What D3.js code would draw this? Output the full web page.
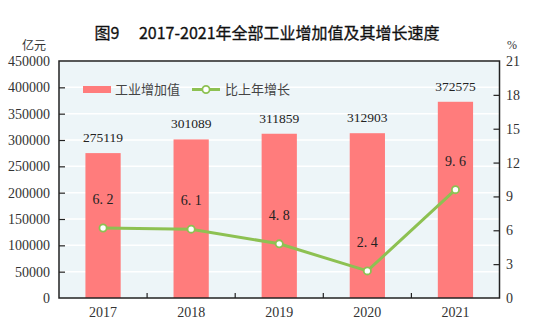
<!DOCTYPE html>
<html><head><meta charset="utf-8">
<script src="https://cdn.jsdelivr.net/npm/d3@7"></script>
<style>body{margin:0;background:#fff}svg{display:block}</style>
</head><body>
<svg id="c" width="537" height="335"></svg>
<script>
const years = ["2017","2018","2019","2020","2021"];
const valueAdded = [275119, 301089, 311859, 312903, 372575];
const growth = [6.2, 6.1, 4.8, 2.4, 9.6];
const growthLabels = ["6. 2","6. 1","4. 8","2. 4","9. 6"];
const leftTicks = [0,50000,100000,150000,200000,250000,300000,350000,400000,450000];
const rightTicks = [0,3,6,9,12,15,18,21];

const svg = d3.select("#c");
const L = 59, R = 499.5, T = 61, B = 298;
const serif = "'Liberation Serif','DejaVu Serif',serif";
const sans = "'Noto Sans CJK SC','Noto Sans',sans-serif";

const x = d3.scaleBand().domain(years).range([L, R]);
const yL = d3.scaleLinear().domain([0, 450000]).range([B, T]);
const yR = d3.scaleLinear().domain([0, 21]).range([B, T]);

svg.append("text").attr("x", 267).attr("y", 39).attr("text-anchor","middle")
  .attr("font-family", sans).attr("font-size", 16).attr("font-weight", 400).attr("fill","#111")
  .attr("stroke","#111").attr("stroke-width",0.3)
  .text("图9\u2003 2017-2021年全部工业增加值及其增长速度");

svg.append("rect").attr("x", L).attr("y", T).attr("width", R-L).attr("height", B-T).attr("fill", "#edf5f8");

svg.append("g").selectAll("line").data(leftTicks.slice(1)).join("line")
  .attr("x1", L).attr("x2", R).attr("y1", d=>yL(d)).attr("y2", d=>yL(d))
  .attr("stroke","#fff").attr("stroke-width",1.5);

// bars
const bw = x.bandwidth()*0.4;
svg.append("g").selectAll("rect").data(years).join("rect")
  .attr("x", (d)=>x(d)+x.bandwidth()/2-bw/2).attr("width", bw)
  .attr("y", (d,i)=>yL(valueAdded[i])).attr("height", (d,i)=>B-yL(valueAdded[i]))
  .attr("fill","#ff7c7c");

svg.append("g").selectAll("text").data(years).join("text")
  .attr("x", d=>x(d)+x.bandwidth()/2).attr("y", (d,i)=>yL(valueAdded[i])-11)
  .attr("text-anchor","middle").attr("font-family", serif).attr("font-size", 13.5).attr("fill","#222")
  .text((d,i)=>valueAdded[i]);

// line
const line = d3.line().x((d,i)=>x(years[i])+x.bandwidth()/2).y(d=>yR(d));
svg.append("path").datum(growth).attr("d", line).attr("fill","none")
  .attr("stroke","#8dc152").attr("stroke-width",3);
svg.append("g").selectAll("circle").data(growth).join("circle")
  .attr("cx",(d,i)=>x(years[i])+x.bandwidth()/2).attr("cy", d=>yR(d)).attr("r",3.6)
  .attr("fill","#fff").attr("stroke","#8dc152").attr("stroke-width",1.8);
svg.append("g").selectAll("text").data(growth).join("text")
  .attr("x",(d,i)=>x(years[i])+x.bandwidth()/2).attr("y", d=>yR(d)-24)
  .attr("text-anchor","middle").attr("font-family", serif).attr("font-size", 14).attr("fill","#222")
  .text((d,i)=>growthLabels[i]);

// axes frame
svg.append("rect").attr("x", L).attr("y", T).attr("width", R-L).attr("height", B-T)
  .attr("fill","none").attr("stroke","#222").attr("stroke-width",1.5);

// left axis
const gl = svg.append("g").attr("transform",`translate(${L},0)`)
  .call(d3.axisRight(yL).tickValues(leftTicks).tickSize(6).tickFormat(()=>""));
gl.select(".domain").remove();
gl.selectAll("line").attr("stroke","#222").attr("stroke-width",1.2);
gl.selectAll(".tick").filter(d=>d===0||d===450000).select("line").remove();
svg.append("g").selectAll("text").data(leftTicks).join("text")
  .attr("x", 50).attr("y", d=>yL(d)+5).attr("text-anchor","end")
  .attr("font-family", serif).attr("font-size", 14).attr("fill","#333").text(d=>d);

// right axis
const gr = svg.append("g").attr("transform",`translate(${R},0)`)
  .call(d3.axisLeft(yR).tickValues(rightTicks).tickSize(6).tickFormat(()=>""));
gr.select(".domain").remove();
gr.selectAll("line").attr("stroke","#222").attr("stroke-width",1.2);
gr.selectAll(".tick").filter(d=>d===0||d===21).select("line").remove();
svg.append("g").selectAll("text").data(rightTicks).join("text")
  .attr("x", 506).attr("y", d=>yR(d)+5).attr("text-anchor","start")
  .attr("font-family", serif).attr("font-size", 14).attr("fill","#333").text(d=>d);

// bottom axis
const gb = svg.append("g").attr("transform",`translate(0,${B})`)
  .call(d3.axisBottom(x).tickSize(0));
gb.select(".domain").remove();
gb.selectAll("text").attr("font-family", serif).attr("font-size", 14).attr("fill","#333").attr("dy", 0).attr("y", 19);
svg.append("g").selectAll("line").data(years.slice(1)).join("line")
  .attr("x1", d=>x(d)).attr("x2", d=>x(d)).attr("y1", B).attr("y2", B-5)
  .attr("stroke","#222").attr("stroke-width",1.2);

// units
svg.append("text").attr("x", 34).attr("y", 50).attr("text-anchor","middle")
  .attr("font-family", sans).attr("font-size", 12).attr("fill","#333").text("亿元");
svg.append("text").attr("x", 512).attr("y", 49).attr("text-anchor","middle")
  .attr("font-family", serif).attr("font-size", 12).attr("fill","#333").text("%");

// legend
svg.append("rect").attr("x", 83).attr("y", 86).attr("width", 28).attr("height", 7).attr("fill","#ff7c7c");
svg.append("text").attr("x", 115).attr("y", 94).attr("font-family", sans).attr("font-size", 13).attr("fill","#444").text("工业增加值");
svg.append("line").attr("x1",192).attr("x2",220).attr("y1",89.5).attr("y2",89.5).attr("stroke","#8dc152").attr("stroke-width",3);
svg.append("circle").attr("cx",206).attr("cy",89.5).attr("r",3.6).attr("fill","#fff").attr("stroke","#8dc152").attr("stroke-width",1.8);
svg.append("text").attr("x", 225).attr("y", 94).attr("font-family", sans).attr("font-size", 13).attr("fill","#444").text("比上年增长");
</script>
</body></html>
